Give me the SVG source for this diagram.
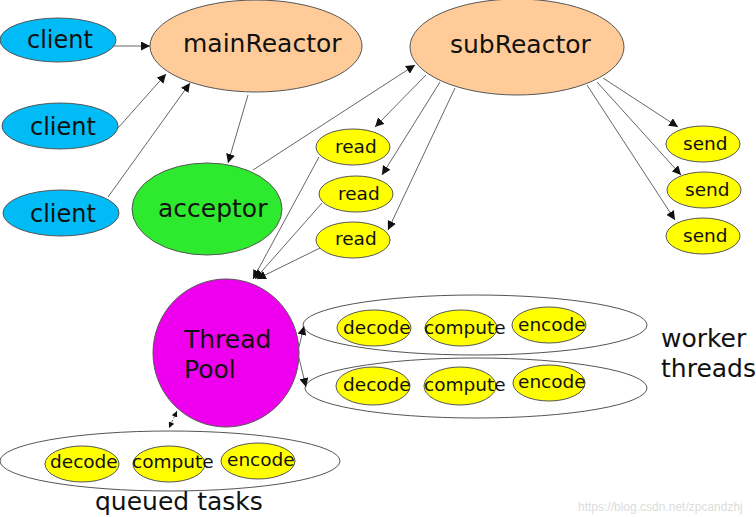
<svg xmlns="http://www.w3.org/2000/svg" width="756" height="517" viewBox="0 0 756 517">
<style>
text{font-family:"DejaVu Sans",Verdana,sans-serif;fill:#111}
.big{font-size:25px}
.cl{font-size:24px}
.sm{font-size:18.5px}
.n{stroke:#555;stroke-width:1}
.client{fill:#00BBF5}
.reactor{fill:#FFCC99}
.acc{fill:#2EEA2E}
.pool{fill:#EE00EE}
.y{fill:#FFFF00}
.grp{fill:#fff;stroke:#555;stroke-width:1}
.c line,.c path{stroke:#666;stroke-width:1;fill:none}
.ar{marker-end:url(#ah)}
.wm{font-family:"Liberation Sans",Arial,sans-serif;font-size:12px;fill:#dcdcdc}
</style>
<defs>
<marker id="ah" viewBox="0 0 10 10" refX="10" refY="5" markerWidth="9" markerHeight="9" markerUnits="userSpaceOnUse" orient="auto">
<path d="M0,0 L10,5 L0,10 z" fill="#111"/>
</marker>
<marker id="ahs" viewBox="0 0 10 10" refX="10" refY="5" markerWidth="6" markerHeight="6" markerUnits="userSpaceOnUse" orient="auto">
<path d="M0,0 L10,5 L0,10 z" fill="#111"/>
</marker>
<marker id="ass" viewBox="0 0 10 10" refX="0" refY="5" markerWidth="6" markerHeight="6" markerUnits="userSpaceOnUse" orient="auto">
<path d="M10,0 L0,5 L10,10 z" fill="#111"/>
</marker>
</defs>
<rect width="756" height="517" fill="#fff"/>

<g id="worker-group-1"><ellipse class="grp" cx="475" cy="325" rx="172" ry="30"/></g>
<g id="worker-group-2"><ellipse class="grp" cx="476" cy="388" rx="171" ry="30"/></g>
<g id="queued-group"><ellipse class="grp" cx="170" cy="461" rx="170" ry="30"/></g>

<g class="c" id="connectors">
<line class="ar" x1="112" y1="46" x2="150" y2="46"/>
<line class="ar" x1="118" y1="128" x2="166" y2="74"/>
<line class="ar" x1="108" y1="197" x2="190" y2="83"/>
<line class="ar" x1="248" y1="95" x2="228" y2="163"/>
<line class="ar" x1="253" y1="170" x2="415" y2="65"/>
<line class="ar" x1="426" y1="75" x2="375" y2="127"/>
<line class="ar" x1="440" y1="82" x2="382" y2="175"/>
<line class="ar" x1="455" y1="88" x2="388" y2="230"/>
<line class="ar" x1="603" y1="78" x2="678" y2="127"/>
<line class="ar" x1="597" y1="82" x2="681" y2="175"/>
<line class="ar" x1="587" y1="85" x2="675" y2="220"/>
<line class="ar" x1="319" y1="157" x2="253" y2="279"/>
<line class="ar" x1="322" y1="203" x2="255" y2="279"/>
<line class="ar" x1="320" y1="248" x2="257" y2="279"/>
<line class="ar" x1="299" y1="347" x2="304" y2="326"/>
<line class="ar" x1="299" y1="358" x2="306" y2="387"/>
<line x1="177" y1="411" x2="169" y2="428" marker-start="url(#ass)" marker-end="url(#ahs)" stroke-dasharray="3,2"/>
</g>

<g id="client1"><ellipse class="n client" cx="58" cy="40" rx="58" ry="22"/><text class="cl" x="27" y="48">client</text></g>
<g id="client2"><ellipse class="n client" cx="60" cy="126" rx="58" ry="23"/><text class="cl" x="30" y="135">client</text></g>
<g id="client3"><ellipse class="n client" cx="61" cy="213" rx="58" ry="23"/><text class="cl" x="30" y="222">client</text></g>

<g id="mainReactor"><ellipse class="n reactor" cx="256" cy="46" rx="106" ry="46"/><text class="big" x="183" y="52">mainReactor</text></g>
<g id="subReactor"><ellipse class="n reactor" cx="517" cy="47" rx="107" ry="48"/><text class="big" x="450" y="53">subReactor</text></g>
<g id="acceptor"><ellipse class="n acc" cx="207" cy="209" rx="75" ry="46"/><text class="big" x="158" y="217">acceptor</text></g>

<g id="read1"><ellipse class="n y" cx="353" cy="147" rx="37" ry="18"/><text class="sm" x="335" y="153">read</text></g>
<g id="read2"><ellipse class="n y" cx="356" cy="194" rx="37" ry="18"/><text class="sm" x="338" y="200">read</text></g>
<g id="read3"><ellipse class="n y" cx="353" cy="240" rx="37" ry="18"/><text class="sm" x="335" y="245">read</text></g>

<g id="send1"><ellipse class="n y" cx="703" cy="144" rx="37" ry="18"/><text class="sm" x="683" y="150">send</text></g>
<g id="send2"><ellipse class="n y" cx="704" cy="190" rx="37" ry="18"/><text class="sm" x="685" y="196">send</text></g>
<g id="send3"><ellipse class="n y" cx="703" cy="236" rx="37" ry="18"/><text class="sm" x="683" y="242">send</text></g>

<g id="threadPool"><ellipse class="n pool" cx="226" cy="353" rx="73" ry="74"/><text class="big" x="184" y="348">Thread</text><text class="big" x="184" y="378">Pool</text></g>

<g id="w1-decode"><ellipse class="n y" cx="374" cy="328" rx="37" ry="18"/><text class="sm" x="343" y="334">decode</text></g>
<g id="w1-compute"><ellipse class="n y" cx="461" cy="328" rx="36" ry="18"/><text class="sm" x="424" y="334">compute</text></g>
<g id="w1-encode"><ellipse class="n y" cx="549" cy="325" rx="37" ry="18"/><text class="sm" x="518" y="331">encode</text></g>
<g id="w2-decode"><ellipse class="n y" cx="373" cy="386" rx="37" ry="19"/><text class="sm" x="343" y="391">decode</text></g>
<g id="w2-compute"><ellipse class="n y" cx="460" cy="386" rx="36" ry="19"/><text class="sm" x="424" y="391">compute</text></g>
<g id="w2-encode"><ellipse class="n y" cx="549" cy="383" rx="36" ry="18"/><text class="sm" x="518" y="388">encode</text></g>

<g id="q-decode"><ellipse class="n y" cx="82" cy="464" rx="37" ry="18"/><text class="sm" x="50" y="468">decode</text></g>
<g id="q-compute"><ellipse class="n y" cx="169" cy="464" rx="36" ry="18"/><text class="sm" x="132" y="468">compute</text></g>
<g id="q-encode"><ellipse class="n y" cx="258" cy="461" rx="37" ry="18"/><text class="sm" x="227" y="466">encode</text></g>

<g id="labels">
<text class="big" x="661" y="347">worker</text>
<text class="big" x="661" y="377">threads</text>
<text class="big" x="95" y="510">queued tasks</text>
<text class="wm" x="578" y="511">https://blog.csdn.net/zpcandzhj</text>
</g>
</svg>
